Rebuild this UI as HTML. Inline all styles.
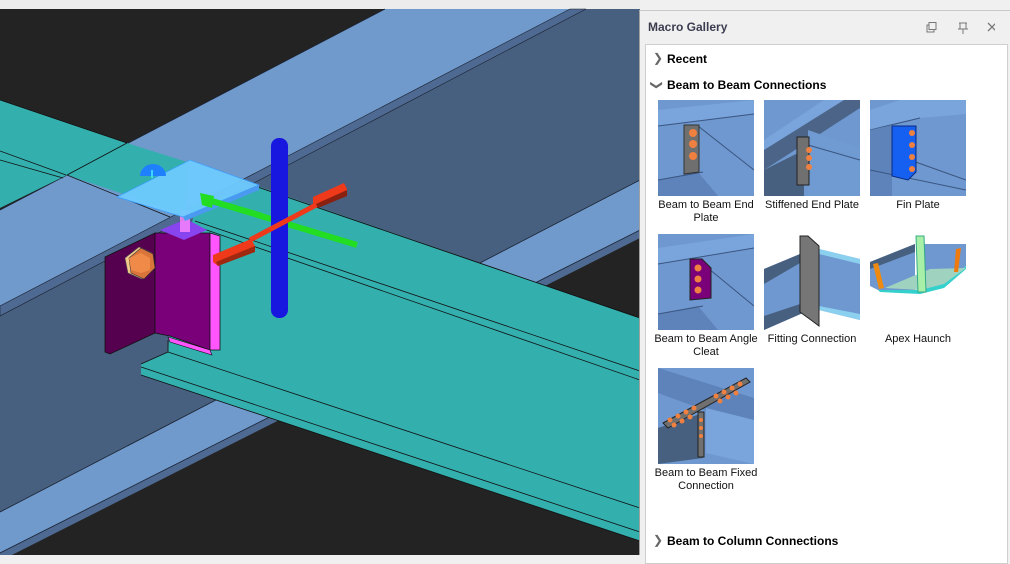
<!DOCTYPE html>
<html><head><meta charset="utf-8"><style>
*{margin:0;padding:0;box-sizing:border-box}
body{width:1010px;height:555px;overflow:hidden;background:#f0f0f0;position:relative;font-family:"Liberation Sans",sans-serif}
#scene{position:absolute;left:0;top:0}
#panel{position:absolute;left:639px;top:10px;width:371px;height:545px;background:#f0f0f0;border-left:1px solid #a0a0a0;border-top:1px solid #c8c8c8}
.title{position:absolute;left:8px;top:9px;font-size:12px;font-weight:bold;color:#3c3c50}
.inner{position:absolute;left:5px;top:33px;width:363px;height:520px;background:#fff;border:1px solid #cfcfcf}
.hdr{position:absolute;font-size:12px;font-weight:bold;color:#000}
.chev{position:absolute;font-size:12px;color:#666}
.th{position:absolute;width:96px;height:96px}
.lbl{position:absolute;width:110px;text-align:center;font-size:11px;line-height:13px;color:#111}
</style></head><body>
<svg id="scene" width="640" height="555" viewBox="0 0 640 555">
<rect x="0" y="0" width="640" height="555" fill="#232323"/>
<rect x="0" y="0" width="640" height="9" fill="#ececec"/>
<polygon points="586,9 640,9 640,180 0,512 0,316" fill="#48607f"/>
<polygon points="385,9 570,9 0,306 0,210" fill="#7099cc"/>
<polygon points="570,9 586,9 0,316 0,306" fill="#4e6a92" stroke="#1a2230" stroke-width="0.6"/>
<line x1="385" y1="9" x2="0" y2="210" stroke="#1a2230" stroke-width="0.8"/>
<polygon points="640,180 640,230 0,553 0,512" fill="#7099cc"/>
<polygon points="640,230 640,238 0,561 0,553" fill="#4e6a92"/>
<line x1="640" y1="180" x2="0" y2="512" stroke="#1a2230" stroke-width="0.8"/>
<line x1="640" y1="230" x2="0" y2="553" stroke="#1a2230" stroke-width="0.8"/>
<polygon points="0,100 127,143 190,163 185,215 67,175 0,208" fill="#33afae"/>
<line x1="0" y1="100" x2="127" y2="143" stroke="#111" stroke-width="0.8"/>
<line x1="0" y1="151" x2="66" y2="175" stroke="#111" stroke-width="0.8"/>
<line x1="0" y1="160" x2="63" y2="178" stroke="#111" stroke-width="0.8"/>
<line x1="127" y1="143" x2="67" y2="175" stroke="#111" stroke-width="0.8"/>
<line x1="67" y1="175" x2="170" y2="217" stroke="#111" stroke-width="0.8"/>
<polygon points="190,205 260,187 640,318 640,541 141,375 141,364 168,352 170,330 193,218" fill="#33afae"/>
<line x1="240" y1="181" x2="640" y2="318" stroke="#111" stroke-width="0.9"/>
<line x1="195" y1="221" x2="640" y2="371" stroke="#111" stroke-width="0.8"/>
<line x1="195" y1="226" x2="640" y2="380" stroke="#111" stroke-width="0.8"/>
<line x1="168" y1="352" x2="640" y2="508" stroke="#111" stroke-width="0.8"/>
<line x1="141" y1="367" x2="640" y2="532" stroke="#111" stroke-width="0.8"/>
<line x1="141" y1="375" x2="640" y2="541" stroke="#111" stroke-width="0.8"/>
<line x1="168" y1="352" x2="141" y2="364" stroke="#111" stroke-width="0.8"/>
<line x1="168" y1="340" x2="168" y2="352" stroke="#111" stroke-width="0.8"/>
<polygon points="105,257 155,233 155,333 110,354 105,352" fill="#560050" stroke="#111" stroke-width="0.8"/>
<polygon points="155,233 210,233 210,350 170,336 155,333" fill="#7a007a" stroke="#111" stroke-width="0.8"/>
<polygon points="210,233 220,236 220,350 210,350" fill="#ff55ff" stroke="#111" stroke-width="0.8"/>
<polygon points="168,337 210,350 212,355 170,342" fill="#ff55ff" stroke="#111" stroke-width="0.6"/>
<polygon points="160,230 186,219 207,230 184,240" fill="#8844ee"/>
<rect x="180" y="210" width="10" height="22" fill="#ff88ff" opacity="0.8"/>
<polygon points="139,247 152,253 154,268 142,279 128,273 125,258" fill="#f2c98a" stroke="#555" stroke-width="0.6"/>
<polygon points="141,248 153,254 155,268 144,279 131,273 129,258" fill="#d9743a" stroke="#333" stroke-width="0.6"/>
<polygon points="129,258 141,253 150,258 150,270 141,273 131,270" fill="#f08a48"/>
<polygon points="117,197 190,160 259,185 183,217" fill="#6fcbff" stroke="#3aa0ff" stroke-width="0.8" opacity="0.95"/>
<polygon points="183,217 259,185 259,190 185,221" fill="#4a9af0"/>
<path d="M140,176 A13,12 0 0 1 166,176 Z" fill="#1f80ff"/>
<line x1="152" y1="170" x2="152" y2="178" stroke="#4ef" stroke-width="1.5"/>
<line x1="205" y1="199" x2="357" y2="245" stroke="#22dd22" stroke-width="6"/>
<polygon points="200,193 214,196 212,208 202,205" fill="#22dd22"/>
<rect x="271" y="138" width="17" height="180" rx="8" fill="#1717e0"/>
<line x1="250" y1="240" x2="318" y2="204" stroke="#ee3a1a" stroke-width="5"/>
<polygon points="213,255 251,239 255,246 255,250 218,266 213,262" fill="#ee3a1a"/>
<polygon points="216,262 255,246 255,252 218,266" fill="#a02810"/>
<polygon points="313,197 344,183 347,189 347,194 316,208 313,204" fill="#ee3a1a"/>
<polygon points="316,204 347,190 347,196 318,208" fill="#8a2010"/>
<line x1="205" y1="199" x2="262" y2="216" stroke="#22dd22" stroke-width="6"/>
</svg>

<div id="panel">
  <div class="title">Macro Gallery</div>
  <svg style="position:absolute;left:285px;top:10px" width="70" height="14">
    <rect x="2" y="4" width="7" height="7" fill="none" stroke="#777"/><rect x="4" y="1.5" width="7" height="7" fill="#f0f0f0" stroke="#777"/>
    <line x1="34" y1="2" x2="42" y2="2" stroke="#777"/><line x1="35" y1="2" x2="35" y2="8" stroke="#777"/><line x1="41" y1="2" x2="41" y2="8" stroke="#777"/><line x1="33" y1="8" x2="43" y2="8" stroke="#777"/><line x1="38" y1="8" x2="38" y2="13" stroke="#777"/>
    <line x1="63" y1="2" x2="71" y2="10" stroke="#777" stroke-width="1.3"/><line x1="71" y1="2" x2="63" y2="10" stroke="#777" stroke-width="1.3"/>
  </svg>
  <div class="inner"></div>
  <div class="chev" style="left:13px;top:40px">&#x276F;</div>
  <div class="hdr" style="left:27px;top:41px">Recent</div>
  <div class="chev" style="left:12px;top:67px;transform:rotate(90deg)">&#x276F;</div>
  <div class="hdr" style="left:27px;top:67px">Beam to Beam Connections</div>

  <svg class="th" style="left:18px;top:89px" viewBox="0 0 96 96">
    <rect width="96" height="96" fill="#6e98cf"/>
    <polygon points="0,10 96,0 96,14 0,26" fill="#7aa4dc"/><line x1="0" y1="26" x2="96" y2="14" stroke="#3a5580"/>
    <polygon points="0,80 40,72 60,96 0,96" fill="#5d83ba"/><line x1="0" y1="80" x2="45" y2="72" stroke="#3a5580"/>
    <line x1="40" y1="26" x2="96" y2="70" stroke="#3a5580"/>
    <polygon points="26,25 41,25 41,72 26,74" fill="#6f6f6f" stroke="#333"/>
    <circle cx="35" cy="33" r="4" fill="#f08040"/><circle cx="35" cy="44" r="4" fill="#f08040"/><circle cx="35" cy="56" r="4" fill="#f08040"/>
  </svg>
  <svg class="th" style="left:124px;top:89px" viewBox="0 0 96 96">
    <rect width="96" height="96" fill="#6e98cf"/>
    <polygon points="0,40 80,0 96,0 96,8 0,70" fill="#4b6488"/><polygon points="0,40 60,0 80,0 0,50" fill="#7aa4dc"/>
    <polygon points="44,30 96,48 96,96 44,96" fill="#6f9ad2"/><line x1="44" y1="45" x2="96" y2="60" stroke="#3a5580"/>
    <polygon points="0,70 40,50 40,96 0,96" fill="#48607f"/>
    <rect x="33" y="37" width="12" height="48" fill="#707070" stroke="#222"/>
    <circle cx="45" cy="50" r="3" fill="#f08040"/><circle cx="45" cy="58" r="3" fill="#f08040"/><circle cx="45" cy="67" r="3" fill="#f08040"/>
  </svg>
  <svg class="th" style="left:230px;top:89px" viewBox="0 0 96 96">
    <rect width="96" height="96" fill="#6e98cf"/>
    <polygon points="0,10 30,0 96,0 96,14 50,18 0,30" fill="#7aa4dc"/><line x1="0" y1="30" x2="50" y2="18" stroke="#3a5580"/>
    <polygon points="0,30 22,25 22,96 0,96" fill="#5d83ba"/>
    <line x1="40" y1="60" x2="96" y2="80" stroke="#3a5580"/><line x1="0" y1="70" x2="96" y2="90" stroke="#3a5580"/>
    <polygon points="22,26 46,26 46,72 38,80 22,76" fill="#1560f0" stroke="#0a2a80"/>
    <circle cx="42" cy="33" r="3" fill="#f08040"/><circle cx="42" cy="45" r="3" fill="#f08040"/><circle cx="42" cy="57" r="3" fill="#f08040"/><circle cx="42" cy="69" r="3" fill="#f08040"/>
  </svg>
  <div class="lbl" style="left:11px;top:188px">Beam to Beam End Plate</div>
  <div class="lbl" style="left:117px;top:188px">Stiffened End Plate</div>
  <div class="lbl" style="left:223px;top:188px">Fin Plate</div>

  <svg class="th" style="left:18px;top:223px" viewBox="0 0 96 96">
    <rect width="96" height="96" fill="#6e98cf"/>
    <polygon points="0,14 96,0 96,14 0,30" fill="#7aa4dc"/><line x1="0" y1="30" x2="96" y2="14" stroke="#3a5580"/>
    <polygon points="0,80 40,72 60,96 0,96" fill="#5d83ba"/><line x1="0" y1="80" x2="45" y2="72" stroke="#3a5580"/>
    <line x1="45" y1="30" x2="96" y2="72" stroke="#3a5580"/>
    <polygon points="32,25 44,25 53,34 53,64 32,66" fill="#7a007a" stroke="#222"/>
    <circle cx="40" cy="34" r="3.5" fill="#f08040"/><circle cx="40" cy="45" r="3.5" fill="#f08040"/><circle cx="40" cy="56" r="3.5" fill="#f08040"/>
  </svg>
  <svg class="th" style="left:124px;top:223px" viewBox="0 0 96 96">
    <rect width="96" height="96" fill="#fff"/>
    <polygon points="0,35 48,15 48,75 0,96" fill="#6e98cf"/><polygon points="0,35 48,15 48,22 0,50" fill="#48607f"/>
    <polygon points="0,82 48,66 48,75 0,96" fill="#48607f"/>
    <polygon points="55,15 96,25 96,86 55,76" fill="#6e98cf"/><polygon points="55,15 96,25 96,30 55,20" fill="#8cd0f0"/><polygon points="55,72 96,80 96,86 55,76" fill="#8cd0f0"/>
    <polygon points="36,2 44,2 55,12 55,92 47,86 36,78" fill="#767676" stroke="#222"/>
  </svg>
  <svg class="th" style="left:230px;top:223px" viewBox="0 0 96 96">
    <rect width="96" height="96" fill="#fff"/>
    <polygon points="0,28 45,10 45,56 8,56 0,52" fill="#6e98cf"/><polygon points="0,28 45,10 45,18 0,35" fill="#48607f"/>
    <polygon points="50,10 96,10 96,32 72,50 50,56" fill="#6e98cf"/>
    <polygon points="8,56 50,56 72,50 96,32 96,35 74,54 50,60 10,58" fill="#33d0cc"/>
    <polygon points="15,54 50,56 74,50 96,34 60,35" fill="#9fd3c0"/>
    <polygon points="46,2 54,2 56,58 48,58" fill="#a8f0a8" stroke="#3a8"/>
    <polygon points="3,30 8,29 14,54 9,55" fill="#ee8a10"/><polygon points="86,15 91,14 88,38 84,38" fill="#ee7a10"/>
  </svg>
  <div class="lbl" style="left:11px;top:322px">Beam to Beam Angle Cleat</div>
  <div class="lbl" style="left:117px;top:322px">Fitting Connection</div>
  <div class="lbl" style="left:223px;top:322px">Apex Haunch</div>

  <svg class="th" style="left:18px;top:357px" viewBox="0 0 96 96">
    <rect width="96" height="96" fill="#6e98cf"/>
    <polygon points="0,0 96,30 96,60 0,25" fill="#5d83ba"/>
    <polygon points="0,60 45,45 45,90 0,96" fill="#48607f"/>
    <polygon points="48,40 96,52 96,96 48,85" fill="#7aa4dc"/>
    <polygon points="5,55 88,10 92,14 10,60" fill="#707070" stroke="#222"/>
    <rect x="40" y="44" width="6" height="45" fill="#707070" stroke="#222"/>
    <g fill="#f08040"><circle cx="12" cy="52" r="2.5"/><circle cx="20" cy="48" r="2.5"/><circle cx="28" cy="44" r="2.5"/><circle cx="36" cy="40" r="2.5"/><circle cx="58" cy="28" r="2.5"/><circle cx="66" cy="24" r="2.5"/><circle cx="74" cy="20" r="2.5"/><circle cx="82" cy="16" r="2.5"/><circle cx="16" cy="57" r="2.5"/><circle cx="24" cy="53" r="2.5"/><circle cx="32" cy="49" r="2.5"/><circle cx="62" cy="33" r="2.5"/><circle cx="70" cy="29" r="2.5"/><circle cx="78" cy="25" r="2.5"/><circle cx="43" cy="52" r="2"/><circle cx="43" cy="60" r="2"/><circle cx="43" cy="68" r="2"/></g>
  </svg>
  <div class="lbl" style="left:11px;top:456px">Beam to Beam Fixed Connection</div>

  <div class="chev" style="left:13px;top:522px">&#x276F;</div>
  <div class="hdr" style="left:27px;top:523px">Beam to Column Connections</div>
</div>
</body></html>
